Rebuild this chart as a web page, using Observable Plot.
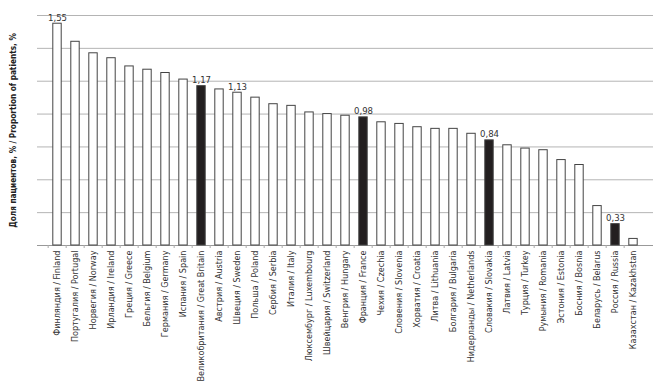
<!DOCTYPE html>
<html><head><meta charset="utf-8">
<script src="https://cdn.jsdelivr.net/npm/d3@7"></script>
<script src="https://cdn.jsdelivr.net/npm/@observablehq/plot@0.6"></script>
<style>
body{margin:0;background:#fff;}
</style></head><body><div id="chart"></div>
<script>
const countries = [
  "Финляндия / Finland", "Португалия / Portugal", "Норвегия / Norway", "Ирландия / Ireland",
  "Греция / Greece", "Бельгия / Belgium", "Германия / Germany", "Испания / Spain",
  "Великобритания / Great Britain", "Австрия / Austria", "Швеция / Sweden", "Польша / Poland",
  "Сербия / Serbia", "Италия / Italy", "Люксембург / Luxembourg", "Швейцария / Switzerland",
  "Венгрия / Hungary", "Франция / France", "Чехия / Czechia", "Словения / Slovenia",
  "Хорватия / Croatia", "Литва / Lithuania", "Болгария / Bulgaria", "Нидерланды / Netherlands",
  "Словакия / Slovakia", "Латвия / Latvia", "Турция / Turkey", "Румыния / Romania",
  "Эстония / Estonia", "Босния / Bosnia", "Беларусь / Belarus", "Россия / Russia",
  "Казахстан / Kazakhstan"
];
const values = [
  1.55, 1.44, 1.37, 1.34,
  1.29, 1.27, 1.25, 1.21,
  1.17, 1.15, 1.13, 1.10,
  1.06, 1.05, 1.01, 1.00,
  0.99, 0.98, 0.95, 0.94,
  0.92, 0.91, 0.91, 0.88,
  0.84, 0.81, 0.79, 0.78,
  0.72, 0.69, 0.44, 0.33,
  0.24
];
const highlighted = ["Великобритания / Great Britain", "Франция / France", "Словакия / Slovakia", "Россия / Russia"];
const labeled = ["Финляндия / Finland", "Великобритания / Great Britain", "Швеция / Sweden", "Франция / France", "Словакия / Slovakia", "Россия / Russia"];
const yTicks = [0.2, 0.4, 0.6, 0.8, 1.0, 1.2, 1.4, 1.6];
const yLabel = "Доля пациентов, % / Proportion of patients, %";

const data = countries.map((c, i) => ({country: c, value: values[i]}));
const fmt = v => v.toFixed(2).replace(".", ",");
const font = '"DejaVu Sans Condensed","DejaVu Sans",sans-serif';

const chart = Plot.plot({
  width: 661, height: 383,
  marginLeft: 37, marginRight: 8, marginTop: 15, marginBottom: 138,
  style: {fontFamily: font, fontSize: "10px", color: "#333", background: "#fff"},
  x: {domain: countries, padding: 0, axis: null},
  y: {domain: [0.2, 1.6], axis: null},
  marks: [
    Plot.gridY(yTicks, {stroke: "#b4b4b4", strokeOpacity: 1}),
    Plot.ruleY([0.2], {stroke: "#999"}),
    Plot.axisX({tickSize: 3, tickFormat: () => "", dx: -9.33, stroke: "#aaa", label: null}),
    Plot.axisX({tickSize: 0, tickRotate: -90, tickPadding: 5, label: null, fill: "#333", fontSize: 9, fontStretch: "condensed"}),
    Plot.barY(data.filter(d => !highlighted.includes(d.country)), {x: "country", y1: 0.2, y2: "value", fill: "white", stroke: "#444", insetLeft: 4.8, insetRight: 4.8}),
    Plot.barY(data.filter(d => highlighted.includes(d.country)), {x: "country", y1: 0.2, y2: "value", fill: "#231f20", stroke: "#444", insetLeft: 4.8, insetRight: 4.8}),
    Plot.text(data.filter(d => labeled.includes(d.country)), {x: "country", y: "value", text: d => fmt(d.value), lineAnchor: "bottom", dy: -3, fill: "#333", fontSize: 9.5}),
    Plot.text([yLabel], {frameAnchor: "left", textAnchor: "middle", rotate: -90, dx: -24, fontWeight: "bold", fontSize: 8.2, fill: "#222"})
  ]
});
document.getElementById("chart").appendChild(chart);
</script></body></html>
